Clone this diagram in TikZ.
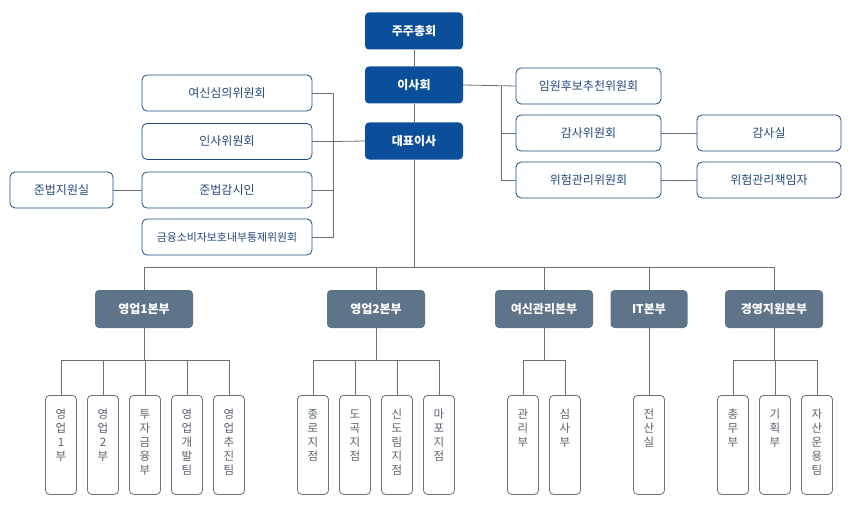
\documentclass[tikz,border=0pt]{standalone}
\usepackage{fontspec}
\setmainfont{Noto Sans CJK KR}
\definecolor{topblue}{RGB}{11,79,155}
\definecolor{divgray}{RGB}{96,116,137}
\definecolor{linegray}{RGB}{104,113,122}
\definecolor{comline}{RGB}{28,74,128}
\definecolor{comtext}{RGB}{36,72,122}
\definecolor{leafline}{RGB}{104,116,128}
\definecolor{leaftext}{RGB}{88,98,108}
\newcommand{\vstack}[1]{\parbox[t]{14pt}{\centering #1}}
\begin{document}
\begin{tikzpicture}[x=1pt, y=-1pt,
    topbox/.style={fill=topblue, text=white, rounded corners=4pt, minimum width=98pt, minimum height=37pt, inner sep=0pt, font=\fontsize{12}{14}\selectfont\bfseries},
    combox/.style={draw=comline, text=comtext, line width=0.8pt, rounded corners=5pt, minimum width=170pt, minimum height=36pt, inner sep=0pt, font=\fontsize{12}{14}\selectfont},
    divbox/.style={fill=divgray, text=white, rounded corners=4pt, minimum width=98pt, minimum height=38pt, inner sep=0pt, font=\fontsize{12}{14}\selectfont\bfseries},
    leafbox/.style={draw=leafline, text=leaftext, line width=0.8pt, rounded corners=4pt, anchor=north, minimum width=31pt, inner sep=0pt, text height=23pt, text depth=76pt, font=\fontsize{11.5}{14}\selectfont},
    conn/.style={draw=linegray, line width=0.8pt}]
    \useasboundingbox (0, 0) rectangle (856, 516);
        % top of the chart
        \node[topbox] (gm) at (414, 31) {주주총회};
        \node[topbox] (board) at (414, 85) {이사회};
        \node[topbox] (ceo) at (414, 141) {대표이사};
        % committees left
        \node[combox] (loan) at (227, 93) {여신심의위원회};
        \node[combox] (hr) at (227, 141.5) {인사위원회};
        \node[combox] (comp) at (227, 190) {준법감시인};
        \node[combox, font=\fontsize{10.9}{14}\selectfont] (consumer) at (227, 237) {금융소비자보호내부통제위원회};
        \node[combox, minimum width=103pt] (compoff) at (61.5, 190) {준법지원실};
        % committees right
        \node[combox, minimum width=145pt] (nom) at (588.5, 86) {임원후보추천위원회};
        \node[combox, minimum width=145pt] (audit) at (588.5, 133) {감사위원회};
        \node[combox, minimum width=145pt] (risk) at (588.5, 180) {위험관리위원회};
        \node[combox, minimum width=144pt] (auditoff) at (769, 133) {감사실};
        \node[combox, minimum width=144pt] (cro) at (769, 180) {위험관리책임자};
        % divisions
        \node[divbox] (sales1) at (144, 309) {영업1본부};
        \node[divbox] (sales2) at (376, 309) {영업2본부};
        \node[divbox] (credit) at (544, 309) {여신관리본부};
        \node[divbox, minimum width=77pt] (it) at (649, 309) {IT본부};
        \node[divbox] (mgmt) at (774, 309) {경영지원본부};
        % departments
        \node[leafbox] (s1a) at (61, 395) {\vstack{영\\업\\1\\부}};
        \node[leafbox] (s1b) at (103, 395) {\vstack{영\\업\\2\\부}};
        \node[leafbox] (s1c) at (145, 395) {\vstack{투\\자\\금\\융\\부}};
        \node[leafbox] (s1d) at (187, 395) {\vstack{영\\업\\개\\발\\팀}};
        \node[leafbox] (s1e) at (229, 395) {\vstack{영\\업\\추\\진\\팀}};
        \node[leafbox] (s2a) at (313, 395) {\vstack{종\\로\\지\\점}};
        \node[leafbox] (s2b) at (355, 395) {\vstack{도\\곡\\지\\점}};
        \node[leafbox] (s2c) at (397, 395) {\vstack{신\\도\\림\\지\\점}};
        \node[leafbox] (s2d) at (439, 395) {\vstack{마\\포\\지\\점}};
        \node[leafbox] (cra) at (523, 395) {\vstack{관\\리\\부}};
        \node[leafbox] (crb) at (565, 395) {\vstack{심\\사\\부}};
        \node[leafbox] (ita) at (649, 395) {\vstack{전\\산\\실}};
        \node[leafbox] (mga) at (733, 395) {\vstack{총\\무\\부}};
        \node[leafbox] (mgb) at (775, 395) {\vstack{기\\획\\부}};
        \node[leafbox] (mgc) at (817, 395) {\vstack{자\\산\\운\\용\\팀}};
        % junctions
        \coordinate (lbus) at (333, 141.5);
        \coordinate (rbus) at (501, 86);
        \coordinate (bus) at (414, 267);
        \coordinate (s1bus) at (144, 360);
        \coordinate (s2bus) at (376, 360);
        \coordinate (crbus) at (544, 360);
        \coordinate (mgbus) at (774, 360);
        % lines
        \draw[conn] (gm) -- (board);
        \draw[conn] (board) -- (ceo);
        \draw[conn] (ceo.west) -- (lbus);
        \draw[conn] (loan.east) -| (lbus);
        \draw[conn] (consumer.east) -| (lbus);
        \draw[conn] (hr.east) -- (lbus);
        \draw[conn] (comp.east) -- (comp.east -| lbus);
        \draw[conn] (compoff) -- (comp);
        \draw[conn] (board.east) -- (nom.west);
        \draw[conn] (rbus) |- (risk.west);
        \draw[conn] (audit.west) -- (audit.west -| rbus);
        \draw[conn] (audit) -- (auditoff);
        \draw[conn] (risk) -- (cro);
        \draw[conn] (ceo.south) -- (bus);
        \draw[conn] (sales1.north) |- (bus);
        \draw[conn] (mgmt.north) |- (bus);
        \draw[conn] (sales2.north) -- (sales2.north |- bus);
        \draw[conn] (credit.north) -- (credit.north |- bus);
        \draw[conn] (it.north) -- (it.north |- bus);
        \draw[conn] (sales1.south) -- (s1bus);
        \draw[conn] (s1a.north) |- (s1bus);
        \draw[conn] (s1e.north) |- (s1bus);
        \draw[conn] (s1b.north) -- (s1b.north |- s1bus);
        \draw[conn] (s1c.north) -- (s1c.north |- s1bus);
        \draw[conn] (s1d.north) -- (s1d.north |- s1bus);
        \draw[conn] (sales2.south) -- (s2bus);
        \draw[conn] (s2a.north) |- (s2bus);
        \draw[conn] (s2d.north) |- (s2bus);
        \draw[conn] (s2b.north) -- (s2b.north |- s2bus);
        \draw[conn] (s2c.north) -- (s2c.north |- s2bus);
        \draw[conn] (credit.south) -- (crbus);
        \draw[conn] (cra.north) |- (crbus);
        \draw[conn] (crb.north) |- (crbus);
        \draw[conn] (it.south) -- (ita.north);
        \draw[conn] (mgmt.south) -- (mgbus);
        \draw[conn] (mga.north) |- (mgbus);
        \draw[conn] (mgc.north) |- (mgbus);
        \draw[conn] (mgb.north) -- (mgb.north |- mgbus);
    \end{tikzpicture}
\end{document}
